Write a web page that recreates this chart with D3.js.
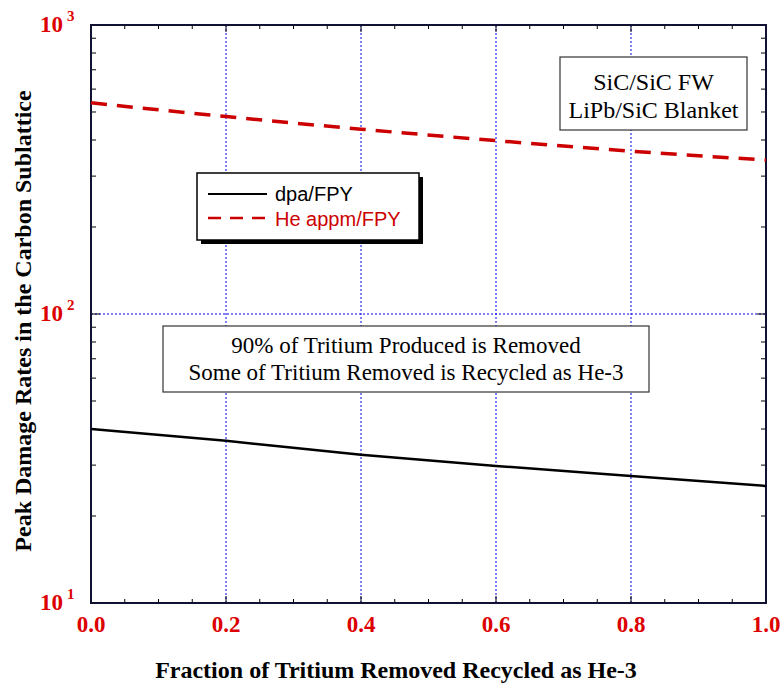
<!DOCTYPE html>
<html>
<head>
<meta charset="utf-8">
<script src="https://cdn.jsdelivr.net/npm/d3@7"></script>
<style>
  html, body { margin: 0; padding: 0; background: #fff; }
  svg { display: block; }
</style>
</head>
<body>
<script>
// Recycled fraction of removed tritium (x) and peak damage rates
const fraction = [0.0, 0.2, 0.4, 0.6, 0.8, 1.0];
const dpaPerFPY = [40.0, 36.4, 32.6, 29.8, 27.5, 25.4];
const heAppmPerFPY = [538, 482, 436, 398, 366, 341];
const xTicks = [0.0, 0.2, 0.4, 0.6, 0.8, 1.0];
const yDecades = [10, 100, 1000];

const W = 781, H = 683;
const m = { left: 91, right: 15, top: 25, bottom: 80 };
const iw = W - m.left - m.right, ih = H - m.top - m.bottom;
const red = "#dd0000";
const serif = "Liberation Serif, Times New Roman, serif";
const sans = "Liberation Sans, Arial, sans-serif";

const svg = d3.select("body").append("svg").attr("width", W).attr("height", H);
const g = svg.append("g").attr("transform", `translate(${m.left},${m.top})`);

const x = d3.scaleLinear().domain([0, 1]).range([0, iw]);
const y = d3.scaleLog().domain([10, 1000]).range([ih, 0]);

// Grid lines
g.append("g").selectAll("line").data(xTicks.filter(v => v > 0 && v < 1)).join("line")
  .attr("x1", d => x(d)).attr("x2", d => x(d)).attr("y1", 0).attr("y2", ih)
  .attr("stroke", "#0000ee").attr("stroke-width", 1).attr("stroke-dasharray", "2,2");
g.append("line").attr("x1", 0).attr("x2", iw).attr("y1", y(100)).attr("y2", y(100))
  .attr("stroke", "#0000ee").attr("stroke-width", 1).attr("stroke-dasharray", "2,2");

// Inside ticks on all four sides
const minorX = d3.range(0, 1.0001, 0.05);
const minorY = [];
[10, 100].forEach(d => { for (let k = 2; k <= 9; k++) minorY.push(d * k); });

const tk = g.append("g").attr("stroke", "#000").attr("stroke-width", 1);
minorX.forEach(v => {
  const major = xTicks.some(t => Math.abs(t - v) < 1e-6);
  const len = major ? 7 : 4;
  tk.append("line").attr("x1", x(v)).attr("x2", x(v)).attr("y1", ih).attr("y2", ih - len);
  tk.append("line").attr("x1", x(v)).attr("x2", x(v)).attr("y1", 0).attr("y2", len);
});
minorY.forEach(v => {
  tk.append("line").attr("x1", 0).attr("x2", 5).attr("y1", y(v)).attr("y2", y(v));
  tk.append("line").attr("x1", iw).attr("x2", iw - 5).attr("y1", y(v)).attr("y2", y(v));
});
yDecades.forEach(v => {
  tk.append("line").attr("x1", 0).attr("x2", 9).attr("y1", y(v)).attr("y2", y(v));
  tk.append("line").attr("x1", iw).attr("x2", iw - 9).attr("y1", y(v)).attr("y2", y(v));
});

// Frame
g.append("rect").attr("x", 0).attr("y", 0).attr("width", iw).attr("height", ih)
  .attr("fill", "none").attr("stroke", "#111133").attr("stroke-width", 2);

// X tick labels
g.append("g").selectAll("text").data(xTicks).join("text")
  .attr("x", d => x(d)).attr("y", ih + 29)
  .attr("text-anchor", "middle")
  .attr("font-family", serif)
  .attr("font-weight", "bold").attr("font-size", 23).attr("fill", red)
  .text(d => d.toFixed(1));

// Y tick labels as 10^n
const yl = g.append("g");
yDecades.forEach(v => {
  const t = yl.append("text")
    .attr("x", -m.left + 40).attr("y", y(v) + 7)
    .attr("font-family", serif)
    .attr("font-weight", "bold").attr("fill", red);
  t.append("tspan").attr("font-size", 23).text("10");
  t.append("tspan").attr("dx", 4).attr("dy", -11).attr("font-size", 15).text(Math.round(Math.log10(v)));
});

// Axis titles
svg.append("text").attr("x", 396).attr("y", 678)
  .attr("text-anchor", "middle")
  .attr("font-family", serif)
  .attr("font-weight", "bold").attr("font-size", 24).attr("fill", "#000")
  .text("Fraction of Tritium Removed Recycled as He-3");
svg.append("text")
  .attr("transform", "translate(31,321) rotate(-90)")
  .attr("text-anchor", "middle")
  .attr("font-family", serif)
  .attr("font-weight", "bold").attr("font-size", 24).attr("fill", "#000")
  .text("Peak Damage Rates in the Carbon Sublattice");

// Data lines
const line = d3.line().x(d => x(d[0])).y(d => y(d[1])).curve(d3.curveMonotoneX);
g.append("path").datum(fraction.map((f, i) => [f, dpaPerFPY[i]]))
  .attr("d", line).attr("fill", "none").attr("stroke", "#000").attr("stroke-width", 2.5);
g.append("path").datum(fraction.map((f, i) => [f, heAppmPerFPY[i]]))
  .attr("d", line).attr("fill", "none").attr("stroke", "#cc0000").attr("stroke-width", 3.5)
  .attr("stroke-dasharray", "16,10");

// Legend with drop shadow
const lg = svg.append("g").attr("transform", "translate(197,173)");
const lw = 222, lh = 67;
lg.append("rect").attr("x", 4).attr("y", 4).attr("width", lw).attr("height", lh).attr("fill", "#000");
lg.append("rect").attr("x", 0).attr("y", 0).attr("width", lw).attr("height", lh)
  .attr("fill", "#fff").attr("stroke", "#000").attr("stroke-width", 1.5);
lg.append("line").attr("x1", 11).attr("x2", 70).attr("y1", 21).attr("y2", 21)
  .attr("stroke", "#000").attr("stroke-width", 2);
lg.append("line").attr("x1", 11).attr("x2", 70).attr("y1", 45).attr("y2", 45)
  .attr("stroke", "#cc0000").attr("stroke-width", 2.5).attr("stroke-dasharray", "13,9");
lg.append("text").attr("x", 78).attr("y", 28)
  .attr("font-family", sans).attr("font-size", 20).attr("fill", "#000")
  .text("dpa/FPY");
lg.append("text").attr("x", 78).attr("y", 53)
  .attr("font-family", sans).attr("font-size", 20).attr("fill", "#cc0000")
  .text("He appm/FPY");

// Annotation boxes
function noteBox(x0, y0, w, h, lines, baselines, size) {
  const b = svg.append("g").attr("transform", `translate(${x0},${y0})`);
  b.append("rect").attr("width", w).attr("height", h)
    .attr("fill", "#fff").attr("stroke", "#333").attr("stroke-width", 1.2);
  lines.forEach((s, i) => {
    b.append("text").attr("x", w / 2).attr("y", baselines[i])
      .attr("text-anchor", "middle")
      .attr("font-family", serif)
      .attr("font-size", size).attr("fill", "#000").text(s);
  });
}
noteBox(560, 57, 187, 73, ["SiC/SiC FW", "LiPb/SiC Blanket"], [33, 61], 24);
noteBox(163, 326, 486, 66, ["90% of Tritium Produced is Removed", "Some of Tritium Removed is Recycled as He-3"], [27, 54], 23);
</script>
</body>
</html>
